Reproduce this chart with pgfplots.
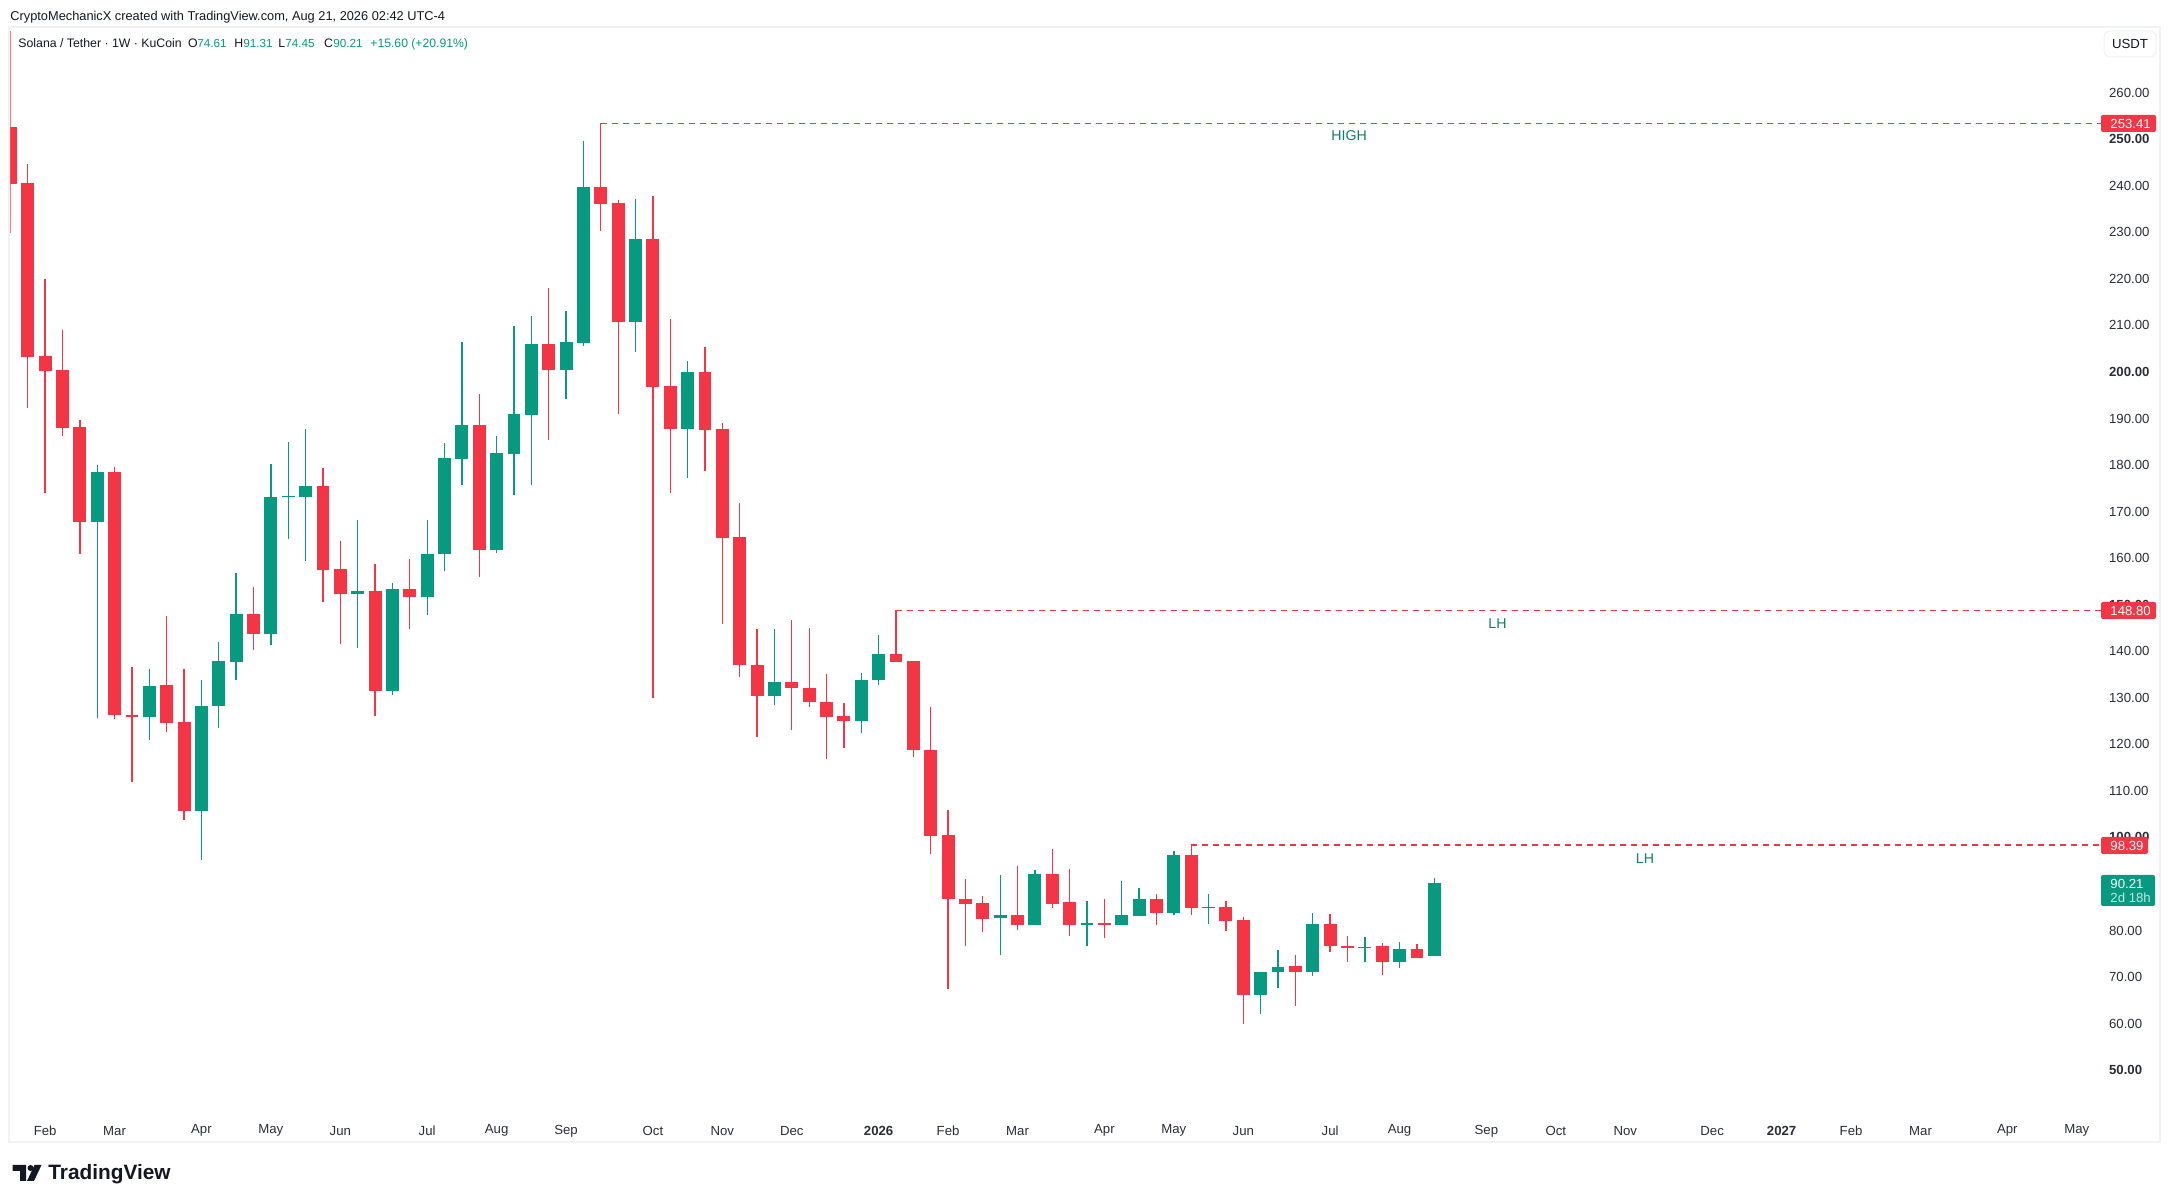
\documentclass[border=0pt]{standalone}
\usepackage{pgfplots}
\pgfplotsset{compat=1.18}
\usepackage{pgfplotstable}
\usepackage{fontspec}
\setmainfont{Liberation Sans}
\definecolor{tvred}{HTML}{F23645}
\definecolor{tvgreen}{HTML}{089981}
\definecolor{tvlabel}{HTML}{2A2E39}
\definecolor{tvdark}{HTML}{131722}
\definecolor{tvframe}{HTML}{F1F2F4}
\definecolor{tvnote}{HTML}{0F7F6C}
% i up low bot top high  (up=1 green, up=0 red), prices in USDT
\pgfplotstableread{
i up low bot top high
0 0 229.9 240.4 252.6 273.3
1 0 192.2 203.2 240.6 244.7
2 0 174.0 200.2 203.4 219.9
3 0 186.2 188.0 200.4 209.0
4 0 160.9 167.8 188.1 189.6
5 1 125.6 167.8 178.6 180.0
6 0 125.4 126.2 178.6 179.5
7 0 112.0 125.8 126.4 136.7
8 1 120.9 125.8 132.6 136.1
9 0 122.6 124.5 132.85 147.5
10 0 103.7 105.6 124.7 136.1
11 1 95.1 105.6 128.3 133.9
12 1 123.45 128.2 137.8 141.9
13 1 133.8 137.6 147.9 156.9
14 0 140.2 143.7 147.9 153.9
15 1 141.3 143.7 173.1 180.2
16 1 164.1 173.1 173.35 184.9
17 1 159.4 173.1 175.6 187.7
18 0 150.5 157.4 175.6 179.3
19 0 141.5 152.3 157.6 163.6
20 1 140.65 152.3 152.85 168.3
21 0 126.0 131.4 152.85 158.65
22 1 130.55 131.4 153.3 154.6
23 0 144.7 151.6 153.3 159.9
24 1 147.75 151.6 161.0 168.1
25 1 157.2 160.9 181.45 184.7
26 1 175.7 181.3 188.5 206.4
27 0 155.9 161.7 188.5 195.2
28 1 161.1 161.7 182.5 186.2
29 1 173.55 182.4 190.9 209.8
30 1 175.7 190.8 206.0 212.0
31 0 185.3 200.4 206.0 218.0
32 1 194.2 200.4 206.4 213.1
33 1 205.6 206.2 239.7 249.6
34 0 230.3 236.1 239.7 253.41
35 0 191.0 210.8 236.3 236.9
36 1 204.3 210.8 228.5 237.1
37 0 129.9 196.8 228.5 237.8
38 0 174.0 187.75 196.9 211.3
39 1 177.2 187.75 199.9 202.3
40 0 178.7 187.5 199.9 205.3
41 0 145.8 164.3 187.7 189.0
42 0 134.4 137.0 164.5 171.8
43 0 121.5 130.3 137.1 144.7
44 1 128.4 130.3 133.5 144.7
45 0 123.0 132.05 133.3 146.8
46 0 128.0 129.0 132.2 144.9
47 0 116.8 125.8 129.2 135.2
48 0 119.15 125.0 126.0 128.8
49 1 122.4 125.0 133.9 135.4
50 1 132.7 133.8 139.5 143.4
51 0 137.6 137.6 139.5 148.8
52 0 117.2 118.7 137.8 137.8
53 0 96.35 100.4 118.7 128.1
54 0 67.5 86.7 100.6 106.0
55 0 76.6 85.8 86.8 91.1
56 0 79.6 82.4 86.0 87.5
57 1 74.85 82.6 83.4 92.0
58 0 80.2 81.3 83.4 93.9
59 1 81.3 81.3 92.2 93.05
60 0 84.95 85.8 92.2 97.6
61 0 78.9 81.1 86.2 93.3
62 1 76.6 81.1 81.7 86.4
63 0 78.3 81.2 81.7 86.8
64 1 81.2 81.2 83.4 90.7
65 1 83.2 83.2 86.8 89.2
66 0 81.3 83.7 86.8 87.9
67 1 83.25 83.7 96.3 97.15
68 0 83.25 84.95 96.3 98.39
69 1 81.5 84.85 85.1 87.9
70 0 80.0 82.1 85.1 86.4
71 0 60.0 66.25 82.3 82.95
72 1 62.15 66.25 71.1 71.1
73 1 67.75 71.0 72.2 75.85
74 0 63.9 71.0 72.4 74.8
75 1 70.3 71.1 81.45 83.8
76 0 75.5 76.6 81.45 83.6
77 0 73.35 76.15 76.7 78.9
78 1 73.35 76.15 76.5 78.65
79 0 70.55 73.35 76.7 77.4
80 1 71.85 73.35 76.1 77.55
81 0 74.0 74.15 76.1 77.15
82 1 74.45 74.61 90.21 91.31
}\candles
\newcommand{\tvfont}{\fontsize{6.6}{8}\selectfont}
\newcommand{\hdfont}{\fontsize{6.15}{8}\selectfont}
\newcommand{\numfont}{\fontsize{5.85}{8}\selectfont}
\begin{document}
\begin{tikzpicture}
\begin{scope}[x=0.5pt,y=-0.5pt,shift={(0pt,601pt)}]
\path[fill=white] (0,0) rectangle (2170,1202);
\draw[tvframe,line width=1pt] (9.4,27) rectangle (2160,1142);
\end{scope}
\begin{axis}[
  at={(5.2pt,30pt)}, anchor=south west,
  scale only axis,
  width=1074.8pt, height=557.5pt,
  xmin=0, xmax=123.79,
  ymin=34.58, ymax=274.11,
  axis line style={draw=none},
  tick style={draw=none},
  major tick length=0pt,
  xtick pos=bottom, ytick pos=right,
  yticklabel pos=right,
  ytick={50,60,70,80,100,110,120,130,140,150,160,170,180,190,200,210,220,230,240,250,260},
  yticklabels={\textbf{50.00},60.00,70.00,80.00,\textbf{100.00},110.00,120.00,130.00,140.00,\textbf{150.00},160.00,170.00,180.00,190.00,\textbf{200.00},210.00,220.00,230.00,240.00,\textbf{250.00},260.00},
  yticklabel style={font=\tvfont,text=tvlabel,anchor=west,xshift=-29pt},
  xtick={2,6,11,15,19,24,28,32,37,41,45,50,54,58,63,67,71,76,80,85,89,93,98,102,106,110,115,119},
  xticklabels={Feb,Mar,Apr,May,Jun,Jul,Aug,Sep,Oct,Nov,Dec,\textbf{2026},Feb,Mar,Apr,May,Jun,Jul,Aug,Sep,Oct,Nov,Dec,\textbf{2027},Feb,Mar,Apr,May},
  xticklabel style={font=\tvfont,text=tvlabel,anchor=center,yshift=5.6pt},
]
\addplot[tvred,line width=0.6pt,dash pattern=on 3pt off 2.5pt] coordinates {(34,253.41)(120.5,253.41)};
\addplot[tvred,line width=0.6pt,dash pattern=on 3pt off 2.5pt] coordinates {(51,148.80)(120.5,148.80)};
\addplot[tvred,line width=0.6pt,dash pattern=on 3pt off 2.5pt] coordinates {(68,98.39)(120.5,98.39)};
\pgfplotsinvokeforeach{0,...,82}{
  \pgfplotstablegetelem{#1}{i}\of\candles \let\ci\pgfplotsretval
  \pgfplotstablegetelem{#1}{up}\of\candles \let\cu\pgfplotsretval
  \pgfplotstablegetelem{#1}{low}\of\candles \let\cl\pgfplotsretval
  \pgfplotstablegetelem{#1}{bot}\of\candles \let\cb\pgfplotsretval
  \pgfplotstablegetelem{#1}{top}\of\candles \let\ct\pgfplotsretval
  \pgfplotstablegetelem{#1}{high}\of\candles \let\ch\pgfplotsretval
  \ifnum\cu=1 \def\cc{tvgreen}\else\def\cc{tvred}\fi
  \edef\doit{%
    \noexpand\addplot[\cc,line width=0.65pt] coordinates {(\ci,\cl)(\ci,\ch)};
    \noexpand\addplot[\cc,line width=6.45pt] coordinates {(\ci,\cb)(\ci,\ct)};
  }\doit
}
\node[font=\fontsize{7.1}{8}\selectfont,text=tvnote] at (axis cs:77.1,250.8) {HIGH};
\node[font=\fontsize{7.1}{8}\selectfont,text=tvnote] at (axis cs:85.64,146.0) {LH};
\node[font=\fontsize{7.1}{8}\selectfont,text=tvnote] at (axis cs:94.13,95.4) {LH};
\end{axis}
\begin{scope}[x=0.5pt,y=-0.5pt,shift={(0pt,601pt)}]
% price tags
\fill[tvred,rounded corners=1] (2101,115) rectangle (2156,132);
\node[anchor=west,inner sep=0,font=\tvfont,text=white] at (2110,123.5) {253.41};
\fill[tvred,rounded corners=1] (2101,602) rectangle (2156,619);
\node[anchor=west,inner sep=0,font=\tvfont,text=white] at (2110,610.5) {148.80};
\fill[tvred,rounded corners=1] (2101,837) rectangle (2148,854);
\node[anchor=west,inner sep=0,font=\tvfont,text=white] at (2110,845.5) {98.39};
\fill[tvgreen,rounded corners=1] (2101,875) rectangle (2155,906);
\node[anchor=west,inner sep=0,font=\tvfont,text=white] at (2110,883.5) {90.21};
\node[anchor=west,inner sep=0,font=\tvfont,text=white!75!tvgreen] at (2110,898) {2d 18h};
% USDT button
\draw[tvframe,line width=0.5pt,fill=white,rounded corners=3] (2104,31) rectangle (2156,57);
\node[font=\tvfont,text=tvdark] at (2130,44) {USDT};
% header
\node[anchor=base west,inner sep=0,font=\fontsize{6.4}{8}\selectfont,text=tvdark] at (10,20.5) {CryptoMechanicX created with TradingView.com, Aug 21, 2026 02:42 UTC-4};
\node[anchor=base west,inner sep=0,font=\hdfont,text=tvdark] at (18,47.5) {Solana / Tether · 1W · KuCoin};
\node[anchor=base west,inner sep=0,font=\hdfont,text=tvdark] at (187.7,47.5) {O};
\node[anchor=base west,inner sep=0,font=\numfont,text=tvgreen] at (197,47.5) {74.61};
\node[anchor=base west,inner sep=0,font=\hdfont,text=tvdark] at (234,47.5) {H};
\node[anchor=base west,inner sep=0,font=\numfont,text=tvgreen] at (243,47.5) {91.31};
\node[anchor=base west,inner sep=0,font=\hdfont,text=tvdark] at (278,47.5) {L};
\node[anchor=base west,inner sep=0,font=\numfont,text=tvgreen] at (285,47.5) {74.45};
\node[anchor=base west,inner sep=0,font=\hdfont,text=tvdark] at (323.7,47.5) {C};
\node[anchor=base west,inner sep=0,font=\numfont,text=tvgreen] at (333,47.5) {90.21};
\node[anchor=base west,inner sep=0,font=\fontsize{6.1}{8}\selectfont,text=tvgreen] at (370,47.5) {+15.60 (+20.91\%)};
% TradingView logo
\fill[tvdark] (12.5,1165) -- (26,1165) -- (26,1181) -- (20,1181) -- (20,1171) -- (12.5,1171) -- cycle;
\fill[tvdark] (30.5,1168) circle (3);
\fill[tvdark] (34.5,1165) -- (41.5,1165) -- (34,1181) -- (27,1181) -- cycle;
\node[anchor=base west,inner sep=0,font=\fontsize{10.4}{12}\selectfont\bfseries,text=tvdark] at (48,1180) {TradingView};
\end{scope}
\end{tikzpicture}
\end{document}
